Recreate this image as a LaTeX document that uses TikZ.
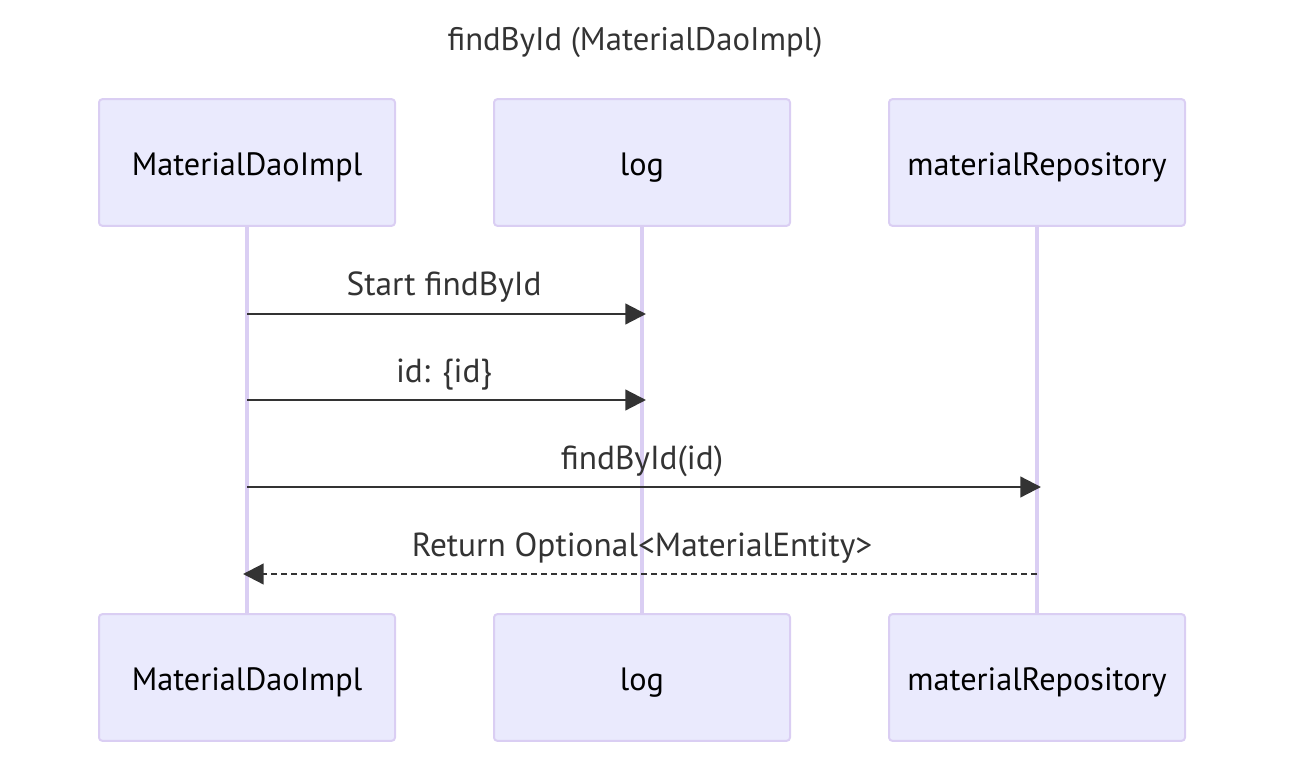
\documentclass[tikz,border=0pt]{standalone}
\usepackage{fontspec}
\setmainfont{PT Sans}
\usepackage{tikz}
\usepackage{xcolor}
\usetikzlibrary{arrows.meta}

\definecolor{actorfill}{HTML}{EAEAFD}
\definecolor{actorline}{HTML}{DACEF3}
\definecolor{msgcol}{HTML}{333333}

\begin{document}
\begin{tikzpicture}[x=0.75pt,y=-0.75pt,
    actor/.style={draw=actorline,line width=1.5pt,fill=actorfill,rounded corners=2.5pt,
      minimum width=222pt,minimum height=95pt,text height=22pt,text depth=3.2pt,
      font=\fontsize{24.2}{28}\selectfont,text=black},
    lifeline/.style={draw=actorline,line width=2.6pt},
    msg/.style={draw=msgcol,line width=1.7pt,-{Triangle[length=15.5pt,width=15.5pt]}},
    reply/.style={msg,dash pattern=on 4.5pt off 3pt},
    lbl/.style={anchor=base,text=msgcol,font=\fontsize{25}{28}\selectfont}]
  \useasboundingbox (0,0) rectangle (1300,774);
  \node[anchor=base,text=msgcol,font=\fontsize{24.5}{28}\selectfont] (title) at (635,51) {findById (MaterialDaoImpl)};
  \foreach \n/\x/\t in {dao/247/MaterialDaoImpl,log/642/log,repo/1037/materialRepository} {
    \draw[lifeline] (\x,226) -- (\x,614);
    \node[actor] (\n top) at (\x,162.5) {\t};
    \node[actor] (\n bot) at (\x,677.5) {\t};
  }
  % message end points on the lifelines
  \coordinate (dao1) at (247,314);  \coordinate (log1) at (646,314);
  \coordinate (dao2) at (247,400);  \coordinate (log2) at (646,400);
  \coordinate (dao3) at (247,487);  \coordinate (repo3) at (1041,487);
  \coordinate (repo4) at (1037,574); \coordinate (dao4) at (243,574);
  \draw[msg] (dao1) -- (log1);
  \node[lbl] (m1) at (444,295) {Start findById};
  \draw[msg] (dao2) -- (log2);
  \node[lbl] (m2) at (444,382) {id: \{id\}};
  \draw[msg] (dao3) -- (repo3);
  \node[lbl] (m3) at (642,469) {findById(id)};
  \draw[reply] (repo4) -- (dao4);
  \node[lbl] (m4) at (642,556) {Return Optional<MaterialEntity>};
\end{tikzpicture}
\end{document}
